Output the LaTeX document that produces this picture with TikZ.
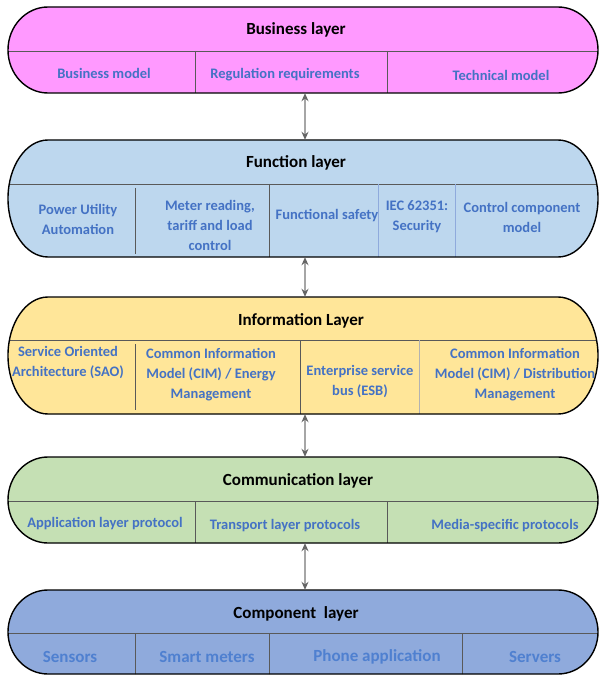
\documentclass[tikz,border=0pt]{standalone}
\usepackage{fontspec}
\setmainfont{Carlito}
\usetikzlibrary{arrows.meta}

\definecolor{bizfill}{HTML}{FF99FF}
\definecolor{funfill}{HTML}{BDD7EE}
\definecolor{infofill}{HTML}{FFE699}
\definecolor{comfill}{HTML}{C5E0B4}
\definecolor{cmpfill}{HTML}{8FAADC}
\definecolor{subblue}{HTML}{4472C4}
\definecolor{cmpblue}{HTML}{4F80D0}
\definecolor{divgray}{HTML}{595959}
\definecolor{divlight}{HTML}{8FAADC}

\tikzset{
  outline/.style={draw=black, line width=1.4pt},
  divline/.style={draw=divgray, line width=0.8pt},
  divsoft/.style={draw=divlight, line width=0.8pt},
  layertitle/.style={font=\bfseries\fontsize{17}{19}\selectfont, text=black, inner sep=0pt},
  subtext/.style={font=\bfseries\fontsize{14.5}{20}\selectfont, text=subblue, align=center, inner sep=0pt},
  cmptext/.style={font=\bfseries\fontsize{17}{20}\selectfont, text=cmpblue, align=center, inner sep=0pt},
  linkarrow/.style={draw=gray!70, line width=1.6pt, {Stealth[length=8pt,width=7pt,color=gray!80!black]}-{Stealth[length=8pt,width=7pt,color=gray!80!black]}},
  layerbox/.style={inner sep=0pt, minimum width=590pt},
}

% stadium outline of a layer: top y, bottom y (page measured downwards)
\newcommand\stadium[2]{%
  (48,-#1) -- (558,-#1)
  arc[start angle=90, end angle=-90, x radius=40, y radius={(#2-#1)/2}]
  -- (48,-#2)
  arc[start angle=270, end angle=90, x radius=40, y radius={(#2-#1)/2}] -- cycle}

\begin{document}
\begin{tikzpicture}[x=1pt,y=1pt]
\useasboundingbox (0,0) rectangle (599,-676);

% ---------------- Business layer ----------------
\fill[bizfill] \stadium{7}{93};
\begin{scope}
  \clip \stadium{7}{93};
  \draw[divline] (0,-51) -- (599,-51);
  \draw[divline] (195,-51) -- (195,-93);
  \draw[divline] (387,-51) -- (387,-93);
\end{scope}
\draw[outline] \stadium{7}{93};
\node[layerbox, minimum height=86pt] (business) at (303,-50) {};
\node[layertitle] (businesst) at (296,-30) {Business layer};
\node[subtext] (bizmodel) at (104,-73) {Business model};
\node[subtext] (regreq) at (285,-75) {Regulation requirements};
\node[subtext] (techmodel) at (501,-75) {Technical model};

% ---------------- Function layer ----------------
\fill[funfill] \stadium{140}{257};
\begin{scope}
  \clip \stadium{140}{257};
  \draw[divline] (0,-184) -- (599,-184);
  \draw[divline] (135,-188) -- (135,-254);
  \draw[divline] (269,-184) -- (269,-257);
  \draw[divsoft] (378,-184) -- (378,-257);
  \draw[divsoft] (455,-184) -- (455,-257);
\end{scope}
\draw[outline] \stadium{140}{257};
\node[layerbox, minimum height=117pt] (function) at (303,-198.5) {};
\node[layertitle] (functiont) at (296,-163) {Function layer};
\node[subtext] (pua) at (78,-219) {Power Utility\\Automation};
\node[subtext] (meter) at (210,-225) {Meter reading,\\tariff and load\\control};
\node[subtext] (safety) at (327,-216) {Functional safety};
\node[subtext] (iec) at (417,-217) {IEC 62351:\\Security};
\node[subtext] (ccm) at (522,-217) {Control component\\model};

% ---------------- Information layer ----------------
\fill[infofill] \stadium{297}{414};
\begin{scope}
  \clip \stadium{297}{414};
  \draw[divline] (0,-340) -- (599,-340);
  \draw[divline] (135,-344) -- (135,-410);
  \draw[divline] (300,-340) -- (300,-414);
  \draw[draw=gray!60, line width=0.8pt] (419,-340) -- (419,-414);
\end{scope}
\draw[outline] \stadium{297}{414};
\node[layerbox, minimum height=117pt] (information) at (303,-355.5) {};
\node[layertitle] (informationt) at (301,-321) {Information Layer};
\node[subtext] (soa) at (68,-363) {Service Oriented\\Architecture (SAO)};
\node[subtext] (cimenergy) at (211,-375) {Common Information\\Model (CIM) / Energy\\Management};
\node[subtext] (esb) at (360,-382) {Enterprise service\\bus (ESB)};
\node[subtext] (cimdist) at (515,-375) {Common Information\\Model (CIM) / Distribution\\Management};

% ---------------- Communication layer ----------------
\fill[comfill] \stadium{457}{543};
\begin{scope}
  \clip \stadium{457}{543};
  \draw[divline] (0,-501) -- (599,-501);
  \draw[divline] (195,-501) -- (195,-543);
  \draw[divline] (387,-501) -- (387,-543);
\end{scope}
\draw[outline] \stadium{457}{543};
\node[layerbox, minimum height=86pt] (communication) at (303,-500) {};
\node[layertitle] (communicationt) at (298,-481) {Communication layer};
\node[subtext] (applayer) at (105,-524) {Application layer protocol};
\node[subtext] (translayer) at (285,-526) {Transport layer protocols};
\node[subtext] (media) at (505,-526) {Media-specific protocols};

% ---------------- Component layer ----------------
\fill[cmpfill] \stadium{590}{674};
\begin{scope}
  \clip \stadium{590}{674};
  \draw[divline] (0,-633) -- (599,-633);
  \draw[divline] (135,-633) -- (135,-676);
  \draw[divline] (269,-633) -- (269,-676);
  \draw[divline] (462,-633) -- (462,-676);
\end{scope}
\draw[outline] \stadium{590}{674};
\node[layerbox, minimum height=84pt] (component) at (303,-632) {};
\node[layertitle] (componentt) at (296,-614) {Component~ layer};
\node[cmptext] (sensors) at (70,-657) {Sensors};
\node[cmptext] (smart) at (207,-657) {Smart meters};
\node[cmptext] (phone) at (377,-657) {Phone application};
\node[cmptext] (servers) at (535,-657) {Servers};

% ---------------- links between layers ----------------
\draw[linkarrow] (business.south -| 305,0) -- (function.north -| 305,0);
\draw[linkarrow] (function.south -| 305,0) -- (information.north -| 305,0);
\draw[linkarrow] (information.south -| 305,0) -- (communication.north -| 305,0);
\draw[linkarrow] (communication.south -| 305,0) -- (component.north -| 305,0);
\end{tikzpicture}
\end{document}
